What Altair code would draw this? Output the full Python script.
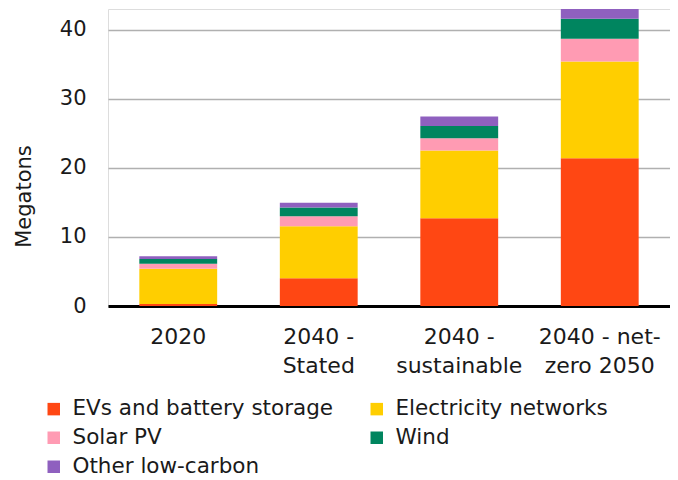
import altair as alt
import pandas as pd

scenarios = ["2020", "2040 - Stated", "2040 - sustainable", "2040 - net-zero 2050"]
scenario_lines = [["2020"], ["2040 -", "Stated"], ["2040 -", "sustainable"], ["2040 - net-", "zero 2050"]]
series = ["EVs and battery storage", "Electricity networks", "Solar PV", "Wind", "Other low-carbon"]
colors = ["#ff4713", "#ffce00", "#ff9bb3", "#00855f", "#8f60bf"]
ev = [0.3, 4.0, 12.7, 21.4]
elec = [5.1, 7.55, 9.8, 14.0]
solar = [0.7, 1.45, 1.8, 3.3]
wind = [0.7, 1.25, 1.75, 2.9]
other = [0.4, 0.7, 1.4, 1.4]

values = [ev, elec, solar, wind, other]
rows = []
for si, (s, vals) in enumerate(zip(series, values)):
    for sc, v in zip(scenarios, vals):
        rows.append({"scenario": sc, "series": s, "value": v, "idx": si})
df = pd.DataFrame(rows)

expr = "''"
for sc, lines in reversed(list(zip(scenarios, scenario_lines))):
    arr = "[" + ",".join("'" + l + "'" for l in lines) + "]"
    expr = f"datum.value == '{sc}' ? {arr} : ({expr})"

FONT = "DejaVu Sans"
TXT = "#1a1a1a"

chart = alt.Chart(df).mark_bar().encode(
    x=alt.X("scenario:N", sort=scenarios,
            scale=alt.Scale(paddingInner=0.446, paddingOuter=0.223),
            axis=alt.Axis(title=None, labelAngle=0, labelExpr=expr, labelFontSize=22,
                          labelLineHeight=29, labelPadding=20, labelColor=TXT, labelFont=FONT,
                          domainColor="black", domainWidth=3, ticks=False, grid=False)),
    y=alt.Y("value:Q", stack="zero", scale=alt.Scale(domain=[0, 43], nice=False),
            axis=alt.Axis(title="Megatons", values=[0, 10, 20, 30, 40], labelFontSize=21,
                          labelColor=TXT, labelFont=FONT, labelPadding=22, ticks=False,
                          domain=False, gridColor="#b0b0b0", gridWidth=1.5,
                          titleFontSize=21, titleFontWeight="normal", titleColor=TXT,
                          titleFont=FONT, titlePadding=25, titleY=187)),
    color=alt.Color("series:N", scale=alt.Scale(domain=series, range=colors),
                    legend=alt.Legend(title=None, orient="none", legendX=-65, legendY=389,
                                      columns=2, direction="horizontal", symbolType="square",
                                      symbolSize=156, symbolStrokeWidth=0, labelFontSize=21.5,
                                      labelFont=FONT, labelColor=TXT, labelOffset=8,
                                      columnPadding=32, rowPadding=6, padding=0,
                                      labelLimit=400)),
    order=alt.Order("idx:Q", sort="ascending"),
).properties(
    width=562, height=297,
    autosize=alt.AutoSizeParams(type="none"),
    padding={"left": 100, "top": 1, "right": 0, "bottom": 180},
).configure_view(stroke=None).configure(background="white")

chart.save("out.html", embed_options={"renderer": "svg", "actions": False})
